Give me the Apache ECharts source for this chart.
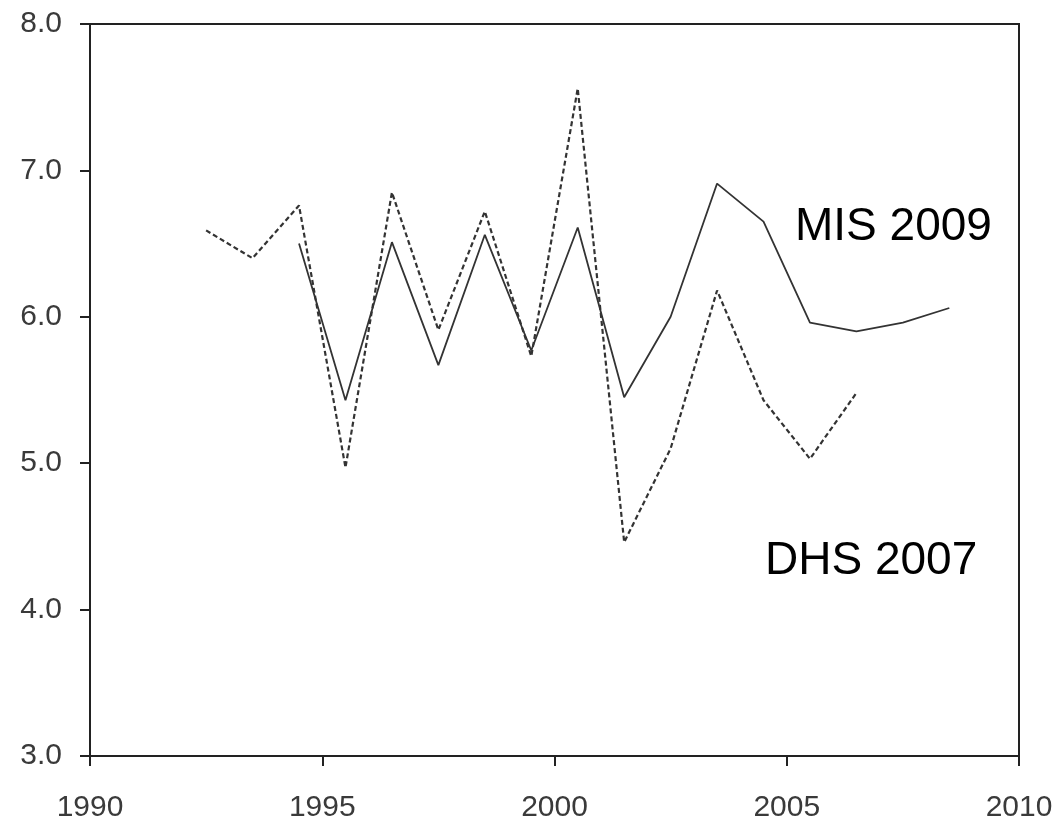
<!DOCTYPE html>
<html>
<head>
<meta charset="utf-8">
<script src="https://cdn.jsdelivr.net/npm/echarts@6/dist/echarts.min.js"></script>
<style>html,body{margin:0;padding:0;background:#fff}#c{width:1061px;height:825px}</style>
</head>
<body>
<div id="c"></div>
<script>
const dhsYears = [1992.5,1993.5,1994.5,1995.5,1996.5,1997.5,1998.5,1999.5,2000.5,2001.5,2002.5,2003.5,2004.5,2005.5,2006.5];
const dhsValues = [6.59,6.40,6.76,4.97,6.85,5.91,6.72,5.73,7.56,4.46,5.10,6.18,5.43,5.03,5.48];
const misYears = [1994.5,1995.5,1996.5,1997.5,1998.5,1999.5,2000.5,2001.5,2002.5,2003.5,2004.5,2005.5,2006.5,2007.5,2008.5];
const misValues = [6.50,5.43,6.51,5.67,6.56,5.77,6.61,5.45,6.00,6.91,6.65,5.96,5.90,5.96,6.06];
const misLabel = 'MIS 2009';
const dhsLabel = 'DHS 2007';

const chart = echarts.init(document.getElementById('c'), null, {renderer:'canvas'});
const axisFont = {fontFamily:'Liberation Sans, Arial, sans-serif', fontSize:30, color:'#3a3a3a'};
chart.setOption({
  animation:false,
  backgroundColor:'#fff',
  grid:{left:90, top:24, right:42, bottom:69, show:true, borderColor:'#222', borderWidth:2, backgroundColor:'transparent'},
  xAxis:{type:'value', min:1990, max:2010, interval:5,
    axisLine:{show:true, lineStyle:{color:'#222', width:2}},
    axisTick:{show:true, length:10, lineStyle:{color:'#222', width:2}},
    axisLabel:Object.assign({margin:37, formatter:v=>String(v)}, axisFont),
    splitLine:{show:false}},
  yAxis:{type:'value', min:3, max:8, interval:1,
    axisLine:{show:true, lineStyle:{color:'#222', width:2}},
    axisTick:{show:true, length:10, lineStyle:{color:'#222', width:2}},
    axisLabel:Object.assign({margin:28, formatter:v=>v.toFixed(1)}, axisFont),
    splitLine:{show:false}},
  series:[
    {type:'line', name:dhsLabel, symbol:'none', data:dhsYears.map((y,i)=>[y,dhsValues[i]]),
      lineStyle:{color:'#333', width:2.2, type:[5,3]}},
    {type:'line', name:misLabel, symbol:'none', data:misYears.map((y,i)=>[y,misValues[i]]),
      lineStyle:{color:'#333', width:1.8, type:'solid'}}
  ],
  graphic:[
    {type:'text', left:795, top:204, style:{text:misLabel, font:'46px "Liberation Sans", Arial, sans-serif', fill:'#000'}},
    {type:'text', left:765, top:538, style:{text:dhsLabel, font:'46px "Liberation Sans", Arial, sans-serif', fill:'#000'}}
  ]
});
</script>
</body>
</html>
